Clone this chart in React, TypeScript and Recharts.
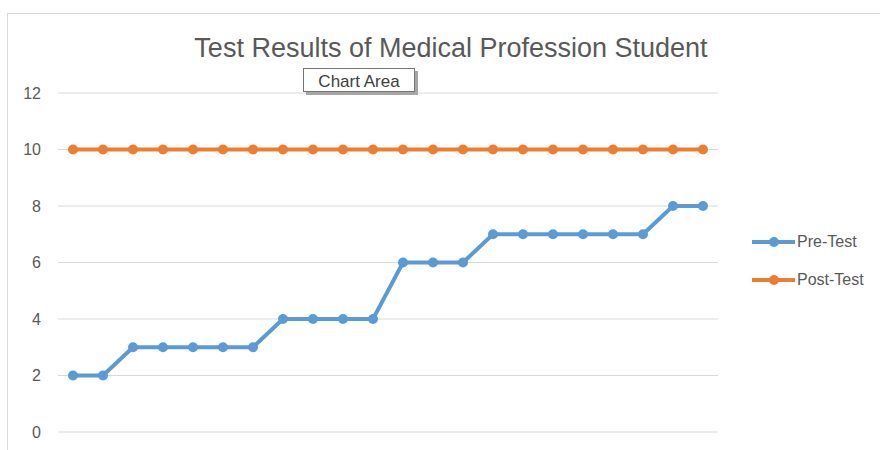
import React from 'react';
import { LineChart, Line, XAxis, YAxis, CartesianGrid } from 'recharts';

const students = ['1', '2', '3', '4', '5', '6', '7', '8', '9', '10', '11', '12', '13', '14', '15', '16', '17', '18', '19', '20', '21', '22'];
const preTest = [2, 2, 3, 3, 3, 3, 3, 4, 4, 4, 4, 6, 6, 6, 7, 7, 7, 7, 7, 7, 8, 8];
const postTest = [10, 10, 10, 10, 10, 10, 10, 10, 10, 10, 10, 10, 10, 10, 10, 10, 10, 10, 10, 10, 10, 10];
const yTicks = [0, 2, 4, 6, 8, 10, 12];
const seriesNames = ['Pre-Test', 'Post-Test'];

const BLUE = '#5B9BD5';
const ORANGE = '#ED7D31';
const colors = [BLUE, ORANGE];
const FONT = '"Liberation Sans", Arial, sans-serif';

const data = students.map((s, i) => ({ name: s, 'Pre-Test': preTest[i], 'Post-Test': postTest[i] }));

function LegendBox() {
  return (
    <div style={{ position: 'absolute', left: 752, top: 223, fontFamily: FONT, fontSize: 16, color: '#595959' }}>
      {seriesNames.map((name, i) => (
        <div key={name} style={{ display: 'flex', alignItems: 'center', height: 38 }}>
          <svg width={45} height={12}>
            <line x1={0} y1={6} x2={43} y2={6} stroke={colors[i]} strokeWidth={4} />
            <circle cx={22} cy={6} r={5} fill={colors[i]} />
          </svg>
          <span>{name}</span>
        </div>
      ))}
    </div>
  );
}

export default function App() {
  return (
    <div style={{ position: 'fixed', left: 0, top: 0, width: 880, height: 450, background: '#fff', overflow: 'hidden' }}>
      <div style={{ position: 'absolute', left: 7, top: 13, width: 900, height: 460, borderTop: '1px solid #d9d9d9', borderLeft: '1px solid #d9d9d9' }} />
      <div style={{ position: 'absolute', left: 0, width: 902, top: 33, textAlign: 'center', fontFamily: FONT, fontSize: 27, color: '#595959', whiteSpace: 'nowrap' }}>
        Test Results of Medical Profession Student
      </div>
      <div style={{ position: 'absolute', left: 0, top: 0 }}>
        <LineChart width={880} height={450} data={data} margin={{ top: 93, right: 162, bottom: 18, left: 0 }}>
          <CartesianGrid vertical={false} stroke="#d9d9d9" />
          <XAxis dataKey="name" hide padding={{ left: 15, right: 15 }} />
          <YAxis
            width={58}
            domain={[0, 12]}
            ticks={yTicks}
            axisLine={false}
            tickLine={false}
            tickSize={6}
            tickMargin={11}
            tick={{ fill: '#595959', fontSize: 16, fontFamily: FONT }}
          />
          <Line
            dataKey="Pre-Test"
            stroke={BLUE}
            strokeWidth={4}
            dot={{ r: 5, fill: BLUE, stroke: BLUE, strokeWidth: 0 }}
            isAnimationActive={false}
          />
          <Line
            dataKey="Post-Test"
            stroke={ORANGE}
            strokeWidth={4}
            dot={{ r: 5, fill: ORANGE, stroke: ORANGE, strokeWidth: 0 }}
            isAnimationActive={false}
          />
        </LineChart>
      </div>
      <LegendBox />
      <div style={{ position: 'absolute', left: 306, top: 71, width: 112, height: 24, background: '#a6a6a6' }} />
      <div
        style={{
          position: 'absolute',
          left: 303,
          top: 68,
          width: 110,
          height: 22,
          background: '#fff',
          border: '1px solid #767676',
          fontFamily: FONT,
          fontSize: 17,
          color: '#404040',
          textAlign: 'center',
          lineHeight: '26px',
        }}
      >
        Chart Area
      </div>
    </div>
  );
}
